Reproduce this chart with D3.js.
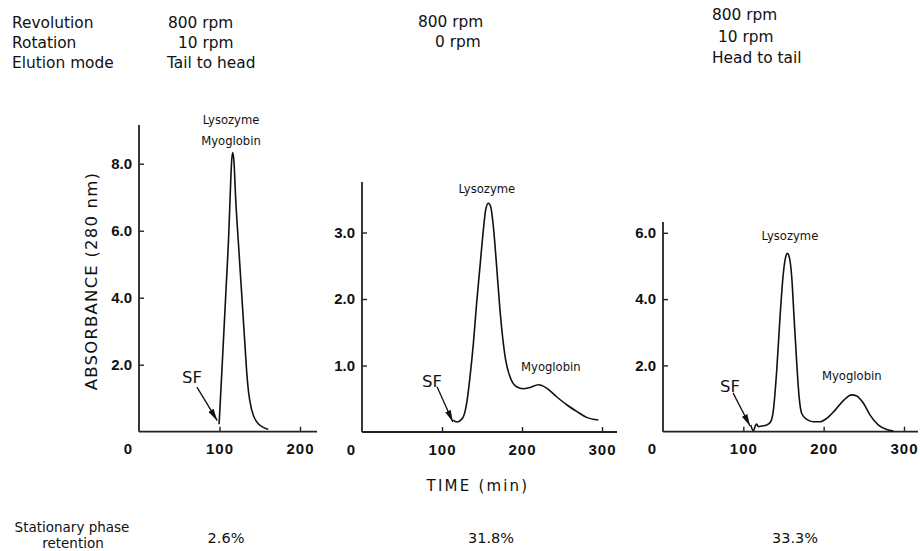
<!DOCTYPE html>
<html>
<head>
<meta charset="utf-8">
<script src="https://cdn.jsdelivr.net/npm/d3@7"></script>
<style>
  html, body { margin: 0; padding: 0; background: #fff; }
  svg { display: block; }
</style>
</head>
<body>
<div class="chart"></div>
<script>
// header rows
const headerLabels = ["Revolution", "Rotation", "Elution mode"]
const revolution = ["800 rpm", "800 rpm", "800 rpm"]
const rotation = ["10 rpm", "0 rpm", "10 rpm"]
const elution = ["Tail to head", "", "Head to tail"]
const retention = ["2.6%", "31.8%", "33.3%"]

// tick values
const timeTicksA = [0, 100, 200]
const timeTicksB = [0, 100, 200, 300]
const timeTicksC = [0, 100, 200, 300]
const absTicksA = [2, 4, 6, 8]
const absTicksB = [1, 2, 3]
const absTicksC = [2, 4, 6]

// chromatograms: [time (min), absorbance]
const curveA = [
  [99.5, 0.22], [101, 0.9], [104, 2.3], [108, 4.2], [111.5, 5.9], [113.5, 7.2],
  [115, 8.05], [116.5, 8.33], [118, 8.05], [120, 7.0], [124, 5.45], [128, 3.95],
  [132, 2.45], [134, 1.72], [136, 1.2], [140, 0.65], [146, 0.3], [154.5, 0.13],
  [160.5, 0.07]
]
const curveB = [
  [114.2, 0.18], [118.3, 0.15], [125.8, 0.21], [130.8, 0.43], [135, 0.83],
  [139.2, 1.33], [143.3, 1.94], [147.5, 2.49], [151.7, 3.04], [154.6, 3.34],
  [157.9, 3.44], [160.8, 3.39], [164.2, 3.09], [168.3, 2.49], [172.5, 1.83],
  [176.7, 1.33], [179.6, 1.08], [185, 0.83], [193.3, 0.68], [201.7, 0.65],
  [210, 0.67], [220.4, 0.71], [230.8, 0.66], [243.3, 0.53], [255.8, 0.41],
  [268.3, 0.31], [280.8, 0.22], [295.4, 0.18]
]
const curveC = [
  [109.2, 0.2], [112.5, 0.03], [115.4, 0.2], [116.6, 0.23], [118.7, 0.15],
  [122.9, 0.17], [129.1, 0.2], [134.1, 0.3], [137.4, 0.65], [141.6, 1.86],
  [145.7, 3.47], [149.8, 4.78], [152.8, 5.28], [154.8, 5.38], [157.3, 5.26],
  [160.2, 4.68], [163.1, 3.47], [166.5, 2.06], [169.4, 1.06], [172.7, 0.55],
  [179, 0.37], [187.2, 0.3], [195.5, 0.3], [203.8, 0.4], [214.2, 0.65],
  [224.5, 0.94], [235, 1.11], [241.2, 1.08], [249.5, 0.86], [257.8, 0.5],
  [268.2, 0.2], [278.6, 0.07], [286.8, 0.02]
]

// peak names
const peakNamesA = ["Lysozyme", "Myoglobin"]
const peakNamesB = ["Lysozyme", "Myoglobin"]
const peakNamesC = ["Lysozyme", "Myoglobin"]

const font = "'DejaVu Sans', Verdana, sans-serif"
const tickFont = "'Liberation Sans', Arial, sans-serif"

// 面板布局（像素位置）
const panels = [
  {
    curve: curveA, xTicks: timeTicksA, yTicks: absTicksA, names: peakNamesA,
    x: [0, 200, 139, 300], axisEnd: 317, y: [0, 8, 431.7, 163.7], axisTop: 125,
    nameAt: [[114.3, 9.2], [114.3, 8.55]], sf: [53.4, 1.45], arrow: [[72, 1.33], [97.2, 0.33]]
  },
  {
    curve: curveB, xTicks: timeTicksB, yTicks: absTicksB, names: peakNamesB,
    x: [0, 300, 362, 602], axisEnd: 617, y: [0, 3, 432, 232.5], axisTop: 182,
    nameAt: [[156, 3.6], [236, 0.92]], sf: [75, 0.68], arrow: [[93.8, 0.68], [113.6, 0.15]]
  },
  {
    curve: curveC, xTicks: timeTicksC, yTicks: absTicksC, names: peakNamesC,
    x: [0, 300, 663, 904], axisEnd: 918, y: [0, 6, 431.7, 232.8], axisTop: 222,
    nameAt: [[158, 5.78], [235, 1.56]], sf: [71, 1.2], arrow: [[87.2, 1.17], [108.4, 0.17]]
  },
]

const svg = d3.select(".chart").append("svg")
  .attr("width", 920)
  .attr("height", 551)
  .attr("viewBox", "0 0 920 551")

svg.append("defs").append("marker")
  .attr("id", "arrow")
  .attr("viewBox", "0 0 12 6")
  .attr("refX", 12)
  .attr("refY", 3)
  .attr("markerWidth", 12)
  .attr("markerHeight", 6)
  .attr("markerUnits", "userSpaceOnUse")
  .attr("orient", "auto")
  .append("path")
  .attr("d", "M0,0 L12,3 L0,6 Z")
  .attr("fill", "#111")

// 表头
const header = svg.append("g")
  .attr("font-family", font)
  .attr("font-size", 15.4)
  .attr("fill", "#111")

headerLabels.forEach((t, i) => {
  header.append("text").attr("x", 12).attr("y", 28 + i * 20).text(t)
})

const colX = [
  [168, 178, 167],
  [418, 435, 0],
  [712, 718, 712],
]
const colY = [
  [28, 48, 68],
  [27, 47, 0],
  [20, 42, 63],
]
revolution.forEach((t, i) => {
  const rows = [t, rotation[i], elution[i]]
  rows.forEach((r, j) => {
    if (!r) return
    header.append("text").attr("x", colX[i][j]).attr("y", colY[i][j]).text(r)
  })
})

// 三个色谱图
panels.forEach((p) => {
  const sx = d3.scaleLinear().domain([p.x[0], p.x[1]]).range([p.x[2], p.x[3]])
  const sy = d3.scaleLinear().domain([p.y[0], p.y[1]]).range([p.y[2], p.y[3]])
  const base = sy(0)
  const left = sx(0)

  const g = svg.append("g")

  // x 轴
  const gx = g.append("g")
    .attr("transform", `translate(0,${base})`)
    .call(d3.axisBottom(sx).tickValues(p.xTicks).tickSize(-5).tickPadding(12).tickFormat(d3.format("d")))
  gx.select(".domain").remove()
  gx.selectAll(".tick line").attr("stroke", "#222").attr("stroke-width", 1.4)
    .filter((d) => d === 0).remove()
  gx.selectAll(".tick text")
    .attr("font-family", tickFont)
    .attr("font-weight", "bold")
    .attr("font-size", 15)
    .attr("letter-spacing", 1)
    .attr("fill", "#111")
    .filter((d) => d === 0)
    .attr("dx", -11)

  // y 轴
  const gy = g.append("g")
    .attr("transform", `translate(${left},0)`)
    .call(d3.axisLeft(sy).tickValues(p.yTicks).tickSize(-5).tickPadding(7).tickFormat(d3.format(".1f")))
  gy.select(".domain").remove()
  gy.selectAll(".tick line").attr("stroke", "#222").attr("stroke-width", 1.4)
  gy.selectAll(".tick text")
    .attr("font-family", tickFont)
    .attr("font-weight", "bold")
    .attr("font-size", 15)
    .attr("fill", "#111")

  // 轴线
  g.append("line")
    .attr("x1", left).attr("x2", p.axisEnd)
    .attr("y1", base).attr("y2", base)
    .attr("stroke", "#222").attr("stroke-width", 1.8)
  g.append("line")
    .attr("x1", left).attr("x2", left)
    .attr("y1", p.axisTop).attr("y2", base)
    .attr("stroke", "#222").attr("stroke-width", 1.8)

  // 曲线
  g.append("path")
    .datum(p.curve)
    .attr("fill", "none")
    .attr("stroke", "#111")
    .attr("stroke-width", 1.6)
    .attr("stroke-linejoin", "round")
    .attr("d", d3.line().x((d) => sx(d[0])).y((d) => sy(d[1])).curve(d3.curveMonotoneX))

  // 峰名
  p.names.forEach((n, i) => {
    g.append("text")
      .attr("x", sx(p.nameAt[i][0]))
      .attr("y", sy(p.nameAt[i][1]))
      .attr("text-anchor", "middle")
      .attr("font-family", font)
      .attr("font-size", 11.6)
      .attr("fill", "#111")
      .text(n)
  })

  // SF 标注
  g.append("text")
    .attr("x", sx(p.sf[0]))
    .attr("y", sy(p.sf[1]))
    .attr("font-family", font)
    .attr("font-size", 16.5)
    .attr("fill", "#111")
    .text("SF")
  g.append("line")
    .attr("x1", sx(p.arrow[0][0])).attr("y1", sy(p.arrow[0][1]))
    .attr("x2", sx(p.arrow[1][0])).attr("y2", sy(p.arrow[1][1]))
    .attr("stroke", "#111").attr("stroke-width", 1.3)
    .attr("marker-end", "url(#arrow)")
})

// 轴标题
svg.append("text")
  .attr("transform", "translate(97,281) rotate(-90)")
  .attr("text-anchor", "middle")
  .attr("font-family", font)
  .attr("font-size", 16.5)
  .attr("letter-spacing", 1.2)
  .attr("fill", "#111")
  .text("ABSORBANCE (280 nm)")

svg.append("text")
  .attr("x", 478).attr("y", 491)
  .attr("text-anchor", "middle")
  .attr("font-family", font)
  .attr("font-size", 15)
  .attr("letter-spacing", 2.2)
  .attr("fill", "#111")
  .text("TIME (min)")

// 固定相保留率
const foot = svg.append("g")
  .attr("font-family", font)
  .attr("fill", "#111")
foot.append("text").attr("x", 72).attr("y", 532).attr("text-anchor", "middle")
  .attr("font-size", 13.5).text("Stationary phase")
foot.append("text").attr("x", 73).attr("y", 548).attr("text-anchor", "middle")
  .attr("font-size", 13.5).text("retention")
const footX = [226, 491, 795]
retention.forEach((t, i) => {
  foot.append("text").attr("x", footX[i]).attr("y", 543).attr("text-anchor", "middle")
    .attr("font-size", 14.5).text(t)
})
</script>
</body>
</html>
